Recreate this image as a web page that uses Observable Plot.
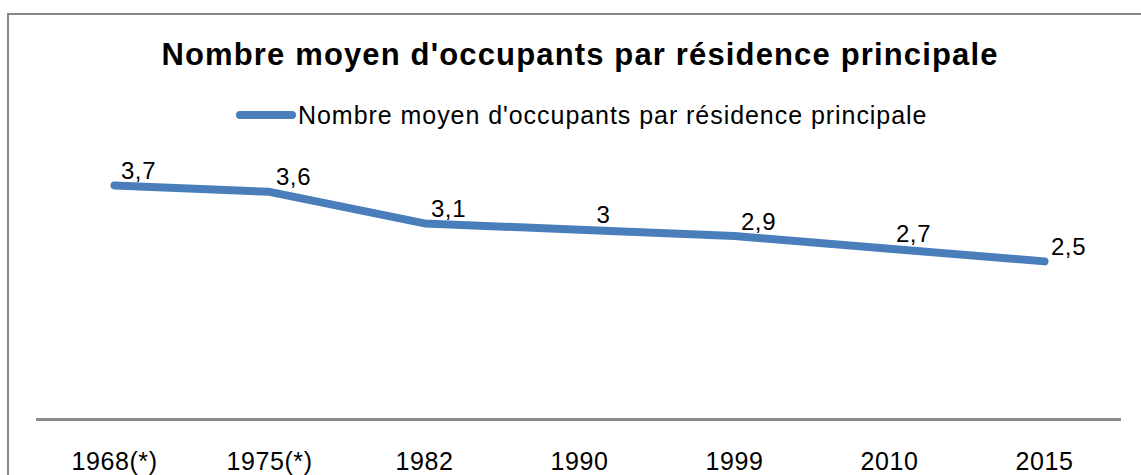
<!DOCTYPE html>
<html>
<head>
<meta charset="utf-8">
<script src="https://cdn.jsdelivr.net/npm/d3@7"></script>
<script src="https://cdn.jsdelivr.net/npm/@observablehq/plot@0.6"></script>
<style>
  html, body { margin: 0; padding: 0; background: #fff; }
  #wrap { position: relative; width: 1141px; height: 475px; overflow: hidden; font-family: "Liberation Sans", Arial, sans-serif; }
  #frame { position: absolute; left: 7px; top: 13px; width: 1160px; height: 500px; border: 2px solid #868686; box-sizing: border-box; }
  #title { position: absolute; left: 0; width: 1160px; top: 35px; text-align: center; font-weight: bold; font-size: 31px; letter-spacing: 1.15px; color: #000; line-height: 40px; }
  #legend { position: absolute; left: 236px; top: 100px; height: 30px; display: flex; align-items: center; font-size: 25px; letter-spacing: 0.95px; color: #000; }
  #legend .swatch { width: 60px; height: 8px; border-radius: 4px; background: #4A7EBB; margin-right: 2px; }
  #chart { position: absolute; left: 0; top: 0; }
  #chart svg text { letter-spacing: 0.6px; }
</style>
</head>
<body>
<div id="wrap">
  <div id="frame"></div>
  <div id="title"></div>
  <div id="legend"><span class="swatch"></span><span id="legendText"></span></div>
  <div id="chart"></div>
</div>
<script>
const titleText = "Nombre moyen d'occupants par résidence principale";
const seriesName = "Nombre moyen d'occupants par résidence principale";
const years = ["1968(*)", "1975(*)", "1982", "1990", "1999", "2010", "2015"];
const values = [3.7, 3.6, 3.1, 3.0, 2.9, 2.7, 2.5];
const labels = ["3,7", "3,6", "3,1", "3", "2,9", "2,7", "2,5"];

document.getElementById("title").textContent = titleText;
document.getElementById("legendText").textContent = seriesName;

const data = years.map((y, i) => ({year: y, value: values[i], label: labels[i]}));
const blue = "#4A7EBB";

const chart = Plot.plot({
  width: 1141,
  height: 475,
  marginLeft: 36,
  marginRight: 20,
  marginTop: 166,
  marginBottom: 56,
  style: {background: "transparent", fontFamily: "'Liberation Sans', Arial, sans-serif", overflow: "visible"},
  x: {type: "point", domain: years, padding: 0.5, label: null},
  y: {domain: [0, 4], axis: null},
  marks: [
    Plot.ruleY([0], {stroke: "#8c8c8c", strokeWidth: 3}),
    Plot.axisX({tickSize: 0, tickPadding: 33, fontSize: 25, fill: "#000", label: null}),
    Plot.line(data, {x: "year", y: "value", stroke: blue, strokeWidth: 8, strokeLinecap: "round", strokeLinejoin: "round"}),
    Plot.text(data, {x: "year", y: "value", text: "label", dx: 24, dy: -14, fontSize: 24, fill: "#000"})
  ]
});
document.getElementById("chart").appendChild(chart);
</script>
</body>
</html>
